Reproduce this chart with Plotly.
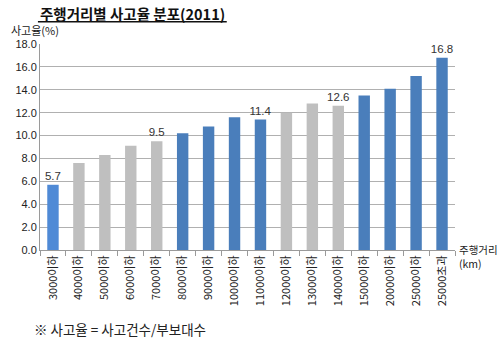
import plotly.graph_objects as go

# 주행거리 구간별 사고율 (2011)
categories = ["3000이하", "4000이하", "5000이하", "6000이하", "7000이하",
              "8000이하", "9000이하", "10000이하", "11000이하", "12000이하",
              "13000이하", "14000이하", "15000이하", "20000이하", "25000이하",
              "25000초과"]
rates = [5.7, 7.6, 8.3, 9.1, 9.5, 10.2, 10.8, 11.6, 11.4, 12.0,
         12.8, 12.6, 13.5, 14.1, 15.2, 16.8]
labeled = [0, 4, 8, 11, 15]
bar_groups = ["first", "gray", "gray", "gray", "gray",
              "blue", "blue", "blue", "blue", "gray",
              "gray", "gray", "blue", "blue", "blue", "blue"]

palette = {"first": "#4F8AD6", "gray": "#BFBFBF", "blue": "#4A7EBB"}
colors = [palette[g] for g in bar_groups]
texts = [f"{v:.1f}" if i in labeled else "" for i, v in enumerate(rates)]

font = "Noto Sans CJK KR, Noto Sans, sans-serif"

fig = go.Figure(go.Bar(
    x=categories, y=rates, marker=dict(color=colors, line_width=0),
    width=0.44, text=texts, textposition="outside", cliponaxis=False,
    constraintext="none",
    textfont=dict(size=11.5, color="#333333", family="Liberation Sans, Arial"),
))

fig.update_layout(
    width=500, height=339,
    margin=dict(l=40, r=45, t=44, b=89),
    paper_bgcolor="white", plot_bgcolor="white",
    showlegend=False, bargap=0.5,
    font=dict(family=font, color="#222222"),
)
fig.update_yaxes(
    range=[0, 18], dtick=2, tickformat=".1f",
    showgrid=True, gridcolor="#B0B0B0", gridwidth=1,
    showline=True, linecolor="#9A9A9A", linewidth=1,
    ticks="", tickfont=dict(size=11, family="Liberation Sans, Arial", color="#222222"),
    zeroline=False,
)
fig.update_xaxes(
    tickangle=-90, tickson="boundaries", ticks="outside", ticklen=5,
    tickcolor="#9A9A9A", showline=True, linecolor="#9A9A9A", linewidth=1,
    tickfont=dict(size=11, family=font, color="#222222"),
)

fig.add_annotation(text="<b>주행거리별 사고율 분포(2011)</b>", xref="paper", yref="paper",
                   x=-0.005, y=1.148, xanchor="left", yanchor="middle", showarrow=False,
                   font=dict(size=14.5, family=font, color="#111111"))
fig.add_shape(type="line", xref="paper", yref="paper",
              x0=-0.005, x1=0.45, y0=1.108, y1=1.108,
              line=dict(color="#111111", width=1.3))
fig.add_annotation(text="사고율(%)", xref="paper", yref="paper",
                   x=-0.075, y=1.068, xanchor="left", yanchor="middle", showarrow=False,
                   font=dict(size=11, family=font, color="#222222"))
fig.add_annotation(text="주행거리<br>(km)", xref="paper", yref="paper",
                   x=1.005, y=0.05, xanchor="left", yanchor="top", showarrow=False,
                   align="left", font=dict(size=10.5, family=font, color="#222222"))
fig.add_annotation(text="※ 사고율 = 사고건수/부보대수", xref="paper", yref="paper",
                   x=-0.02, y=-0.385, xanchor="left", yanchor="middle", showarrow=False,
                   font=dict(size=13.5, family=font, color="#222222"))

fig.write_html("out.html")
